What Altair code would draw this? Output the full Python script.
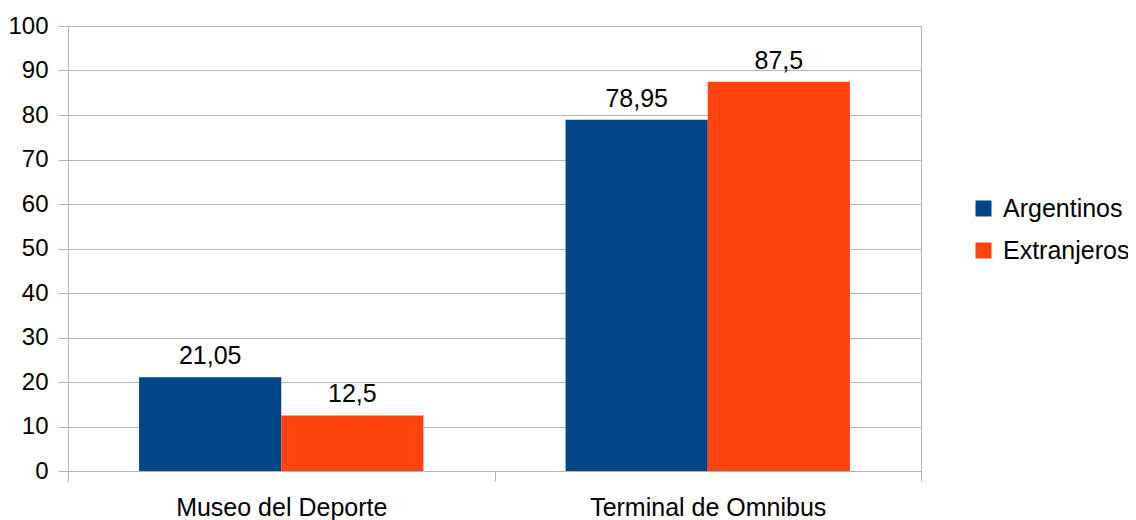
import altair as alt
import pandas as pd

categories = ["Museo del Deporte", "Terminal de Omnibus"]
series = ["Argentinos", "Extranjeros"]
argentinos = [21.05, 78.95]
extranjeros = [12.5, 87.5]
colors = ["#004586", "#ff420e"]
y_ticks = list(range(0, 101, 10))

rows = []
for i, c in enumerate(categories):
    for s, vals in zip(series, [argentinos, extranjeros]):
        v = vals[i]
        rows.append({"cat": c, "serie": s, "valor": v,
                     "label": (f"{v:g}").replace(".", ",")})
df = pd.DataFrame(rows)

FONT = "Liberation Sans"

base = alt.Chart(df).encode(
    x=alt.X("cat:N", sort=categories, title=None,
            scale=alt.Scale(paddingInner=0, paddingOuter=0),
            axis=alt.Axis(labelAngle=0, tickBand="extent", tickSize=10,
                          tickColor="#b3b3b3", domain=False, labelFontSize=25,
                          labelFont=FONT, labelColor="#000000", labelPadding=14,
                          labelLimit=0)),
    xOffset=alt.XOffset("serie:N", sort=series,
                        scale=alt.Scale(paddingInner=0, paddingOuter=0.5)),
)

bars = base.mark_bar().encode(
    y=alt.Y("valor:Q", title=None,
            scale=alt.Scale(domain=[0, 100], nice=False),
            axis=alt.Axis(values=y_ticks, tickSize=10, tickColor="#b3b3b3",
                          gridColor="#b3b3b3", domain=False, labelFontSize=24,
                          labelFont=FONT, labelColor="#000000", labelPadding=10)),
    color=alt.Color("serie:N", sort=series,
                    scale=alt.Scale(domain=series, range=colors),
                    legend=alt.Legend(title=None, orient="none", legendX=903,
                                      legendY=170, symbolType="square",
                                      symbolSize=256, symbolStrokeWidth=0,
                                      labelFontSize=25, labelFont=FONT,
                                      labelColor="#000000", rowPadding=16,
                                      labelOffset=7, padding=0, labelLimit=0)),
)

text = base.mark_text(fontSize=25, font=FONT, color="#000000",
                      baseline="alphabetic", dy=-13).encode(
    y=alt.Y("valor:Q"),
    text="label:N",
)

chart = alt.layer(bars, text).properties(
    width=853, height=445,
    autosize=alt.AutoSizeParams(type="none"),
    padding={"left": 60, "top": 18, "right": 207, "bottom": 60},
).configure_view(stroke="#b3b3b3", strokeWidth=1).configure_axis(
    gridWidth=1, tickWidth=1
)

chart.save("out.html", embed_options={"renderer": "svg", "actions": False})
